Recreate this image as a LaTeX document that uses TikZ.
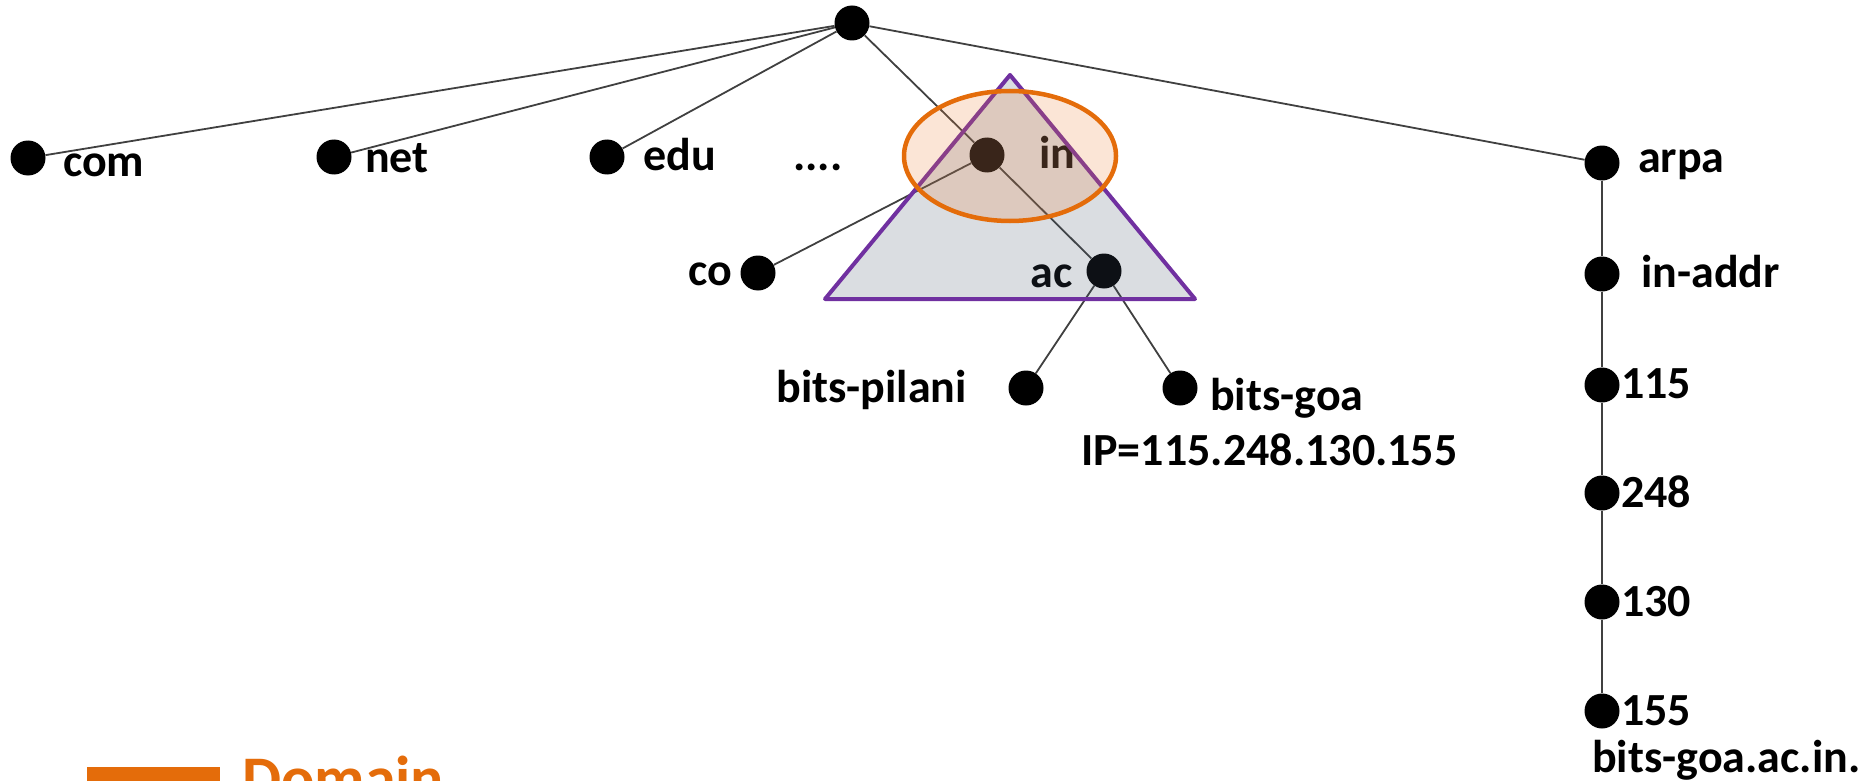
\documentclass[tikz,border=0pt]{standalone}
\usepackage{fontspec}
\setmainfont{Carlito}
\definecolor{trifill}{HTML}{44546A}
\definecolor{tristroke}{HTML}{7030A0}
\definecolor{ellfill}{HTML}{ED7D31}
\definecolor{ellstroke}{HTML}{E46C0A}
\begin{document}
\begin{tikzpicture}[x=1pt,y=-1pt,
  dot/.style={circle,fill=black,inner sep=0pt,minimum size=35pt},
  lbl/.style={anchor=base west,inner sep=0pt,font=\fontsize{46}{50}\selectfont\bfseries},
  lblr/.style={lbl,anchor=base east},
  edge/.style={draw=black!75,line width=1.8pt},
  zone/.style={draw=tristroke,line width=4pt,line join=round,fill=trifill,fill opacity=0.2},
  focus/.style={draw=ellstroke,line width=4.5pt,fill=ellfill,fill opacity=0.2}]
\useasboundingbox (0,0) rectangle (1873,781);
\clip (0,0) rectangle (1873,781);
% dots
\node[dot] (root) at (852,23) {};
\node[dot] (com) at (28,158) {};
\node[dot] (net) at (334,157) {};
\node[dot] (edu) at (607,157) {};
\node[dot] (in) at (987,155) {};
\node[dot] (arpa) at (1602,163) {};
\node[dot] (co) at (758,273) {};
\node[dot] (ac) at (1104,271) {};
\node[dot] (pilani) at (1026,388) {};
\node[dot] (goa) at (1180,388) {};
\node[dot] (inaddr) at (1602,274) {};
\node[dot] (n115) at (1602,385) {};
\node[dot] (n248) at (1602,493) {};
\node[dot] (n130) at (1602,602) {};
\node[dot] (n155) at (1602,711) {};
% edges
\draw[edge] (root) -- (com);
\draw[edge] (root) -- (net);
\draw[edge] (root) -- (edu);
\draw[edge] (root) -- (in);
\draw[edge] (root) -- (arpa);
\draw[edge] (in) -- (co);
\draw[edge] (in) -- (ac);
\draw[edge] (ac) -- (pilani);
\draw[edge] (ac) -- (goa);
\draw[edge] (arpa) -- (inaddr) -- (n115) -- (n248) -- (n130) -- (n155);
% labels
\node[lbl] (tcom) at (63,176) {com};
\node[lbl] (tnet) at (365,172) {net};
\node[lbl] (tedu) at (643,170) {edu};
\node[lbl] (tdots) at (793,170) {....};
\node[lbl] (tin) at (1039,168) {in};
\node[lbl] (tarpa) at (1638,172) {arpa};
\node[lblr] (tco) at (732,285) {co};
\node[lblr] (tac) at (1073,287) {ac};
\node[lblr] (tpil) at (967,402) {bits-pilani};
\node[lbl] (tgoa) at (1210,410) {bits-goa};
\node[lbl] (tip) at (1081,465) {IP=115.248.130.155};
\node[lbl] (tinaddr) at (1641,287) {in-addr};
\node[lbl] (t115) at (1621,398) {115};
\node[lbl] (t248) at (1621,507) {248};
\node[lbl] (t130) at (1621,616) {130};
\node[lbl] (t155) at (1621,725) {155};
\node[lbl] (tfqdn) at (1592,772) {bits-goa.ac.in.};
% zone triangle and focus ellipse
\path[zone] (1010,75) -- (1195,299) -- (825,299) -- cycle;
\path[focus] (1010,156) ellipse [x radius=106, y radius=65];
% legend
\fill[ellstroke] (87,767) rectangle (220,800);
\node[anchor=base west,inner sep=0pt,text=ellstroke,font=\fontsize{62}{70}\selectfont\bfseries] (dom) at (242,799) {Domain};
\end{tikzpicture}
\end{document}
